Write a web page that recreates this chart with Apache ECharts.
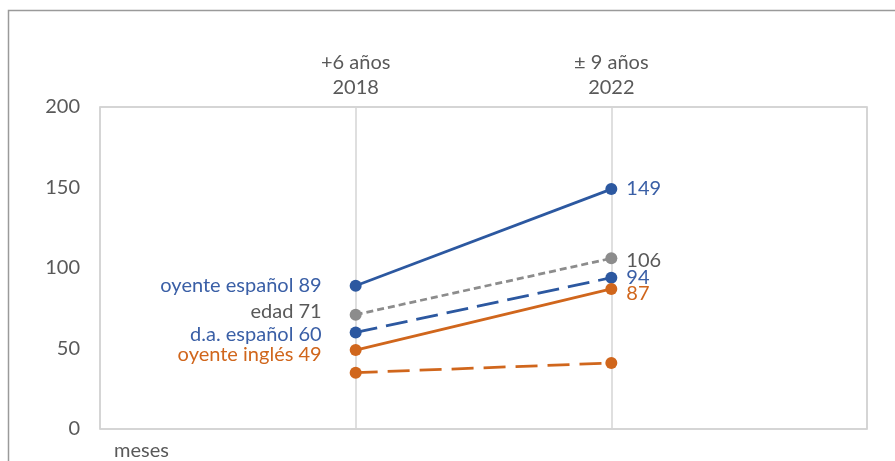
<!DOCTYPE html>
<html>
<head>
<meta charset="utf-8">
<script src="https://cdn.jsdelivr.net/npm/echarts@6/dist/echarts.min.js"></script>
<style>
    html, body { margin: 0; padding: 0; background: #fff; }
    #main { width: 895px; height: 461px; }
</style>
</head>
<body>
<div id="main"></div>
<script>
// categories: empty slots at both ends so the two periods sit at 1/3 and 2/3
var ages = ['', '+6 años', '± 9 años', ''];
var years = ['', '2018', '2022', ''];

var oyenteEspanol = [null, 89, 149, null];
var edad = [null, 71, 106, null];
var daEspanol = [null, 60, 94, null];
var oyenteIngles = [null, 49, 87, null];
var daIngles = [null, 35, 41, null];

var blue = '#2c58a0';
var gray = '#8c8c8c';
var orange = '#d0661c';
var fontSize = 20;

var myChart = echarts.init(document.getElementById('main'));

function makeSeries (name, values, color, dash, textColor, leftName, offL, offR, showRight) {
    return {
        name: name,
        type: 'line',
        symbol: 'circle',
        symbolSize: 12,
        lineStyle: { color: color, width: 2.75, type: dash },
        itemStyle: { color: color },
        data: values.map(function (v, i) {
            if (v === null) return null;
            var first = i === 1;
            return {
                value: v,
                label: {
                    show: first ? !!leftName : showRight,
                    position: first ? 'left' : 'right',
                    distance: first ? 28 : 9,
                    offset: first ? offL : offR,
                    color: textColor,
                    fontSize: fontSize,
                    fontFamily: 'Lato',
                    formatter: first ? leftName + ' ' + v : String(v)
                }
            };
        })
    };
}

myChart.setOption({
    animation: false,
    graphic: [{
        type: 'rect',
        left: 6,
        top: 8,
        shape: { width: 900, height: 470 },
        style: { fill: 'none', stroke: '#9a9a9a', lineWidth: 1.5 }
    }],
    grid: {
        left: 100,
        right: 28,
        top: 107,
        bottom: 32,
        show: true,
        borderColor: '#c8c8c8',
        borderWidth: 1.5
    },
    xAxis: [{
        type: 'category',
        boundaryGap: false,
        data: years,
        axisLine: { show: false },
        axisTick: { show: false },
        axisLabel: { show: false },
        splitLine: { show: true, lineStyle: { color: '#d4d4d4', width: 1.5 } }
    }, {
        type: 'category',
        position: 'top',
        boundaryGap: false,
        data: ages.map(function (a, i) { return a ? a + '\n' + years[i] : ''; }),
        axisLine: { show: false },
        axisTick: { show: false },
        splitLine: { show: false },
        axisLabel: {
            interval: 0,
            margin: 7,
            color: '#595959',
            fontSize: fontSize,
            lineHeight: 25,
            fontFamily: 'Lato'
        }
    }],
    yAxis: {
        type: 'value',
        min: 0,
        max: 200,
        interval: 50,
        name: 'meses',
        nameLocation: 'start',
        nameGap: 12,
        nameTextStyle: {
            color: '#595959',
            fontSize: fontSize,
            fontFamily: 'Lato',
            align: 'left',
            padding: [0, 0, 0, 14]
        },
        axisLine: { show: false },
        axisTick: { show: false },
        splitLine: { show: false },
        axisLabel: {
            margin: 20,
            color: '#595959',
            fontSize: fontSize,
            fontFamily: 'Lato'
        }
    },
    series: [
        makeSeries('oyente español', oyenteEspanol, blue, 'solid', '#3a5fa6', 'oyente español', [0, 0], [0, -1], true),
        makeSeries('edad', edad, gray, [7, 4], '#595959', 'edad', [0, -3], [0, 2], true),
        makeSeries('d.a. español', daEspanol, blue, [22, 9], '#3a5fa6', 'd.a. español', [0, 2], [0, 0], true),
        makeSeries('oyente inglés', oyenteIngles, orange, 'solid', '#d0661c', 'oyente inglés', [0, 4], [0, 5], true),
        makeSeries('d.a. inglés', daIngles, orange, [22, 10], '#d0661c', '', [0, 0], [0, 0], false)
    ]
});
</script>
</body>
</html>
